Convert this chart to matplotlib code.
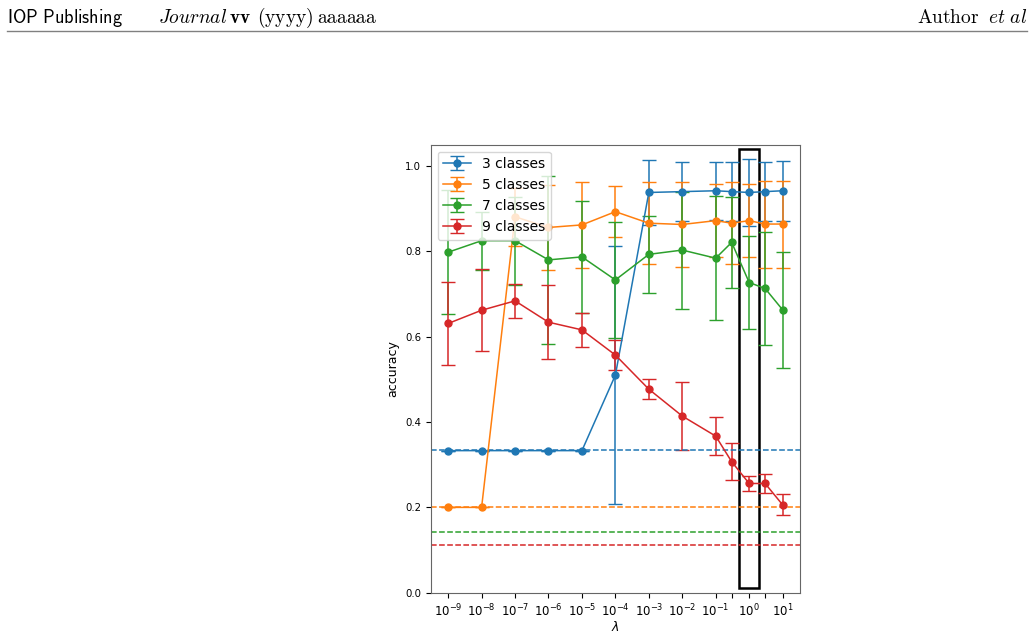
import matplotlib
matplotlib.use("Agg")
import matplotlib.pyplot as plt
from matplotlib.patches import Rectangle

# regularisation strengths
lambdas = [1e-9, 1e-8, 1e-7, 1e-6, 1e-5, 1e-4, 1e-3, 1e-2, 1e-1, 0.3, 1, 3, 10]
tick_labels = [r'$10^{-9}$', r'$10^{-8}$', r'$10^{-7}$', r'$10^{-6}$', r'$10^{-5}$',
               r'$10^{-4}$', r'$10^{-3}$', r'$10^{-2}$', r'$10^{-1}$', '',
               r'$10^{0}$', '', r'$10^{1}$']

# mean accuracy and std per number of classes
acc3 = [0.333, 0.333, 0.333, 0.333, 0.333, 0.510, 0.938, 0.940, 0.942, 0.940, 0.938, 0.940, 0.942]
err3 = [0.0, 0.0, 0.0, 0.0, 0.0, 0.303, 0.076, 0.070, 0.068, 0.070, 0.078, 0.070, 0.070]

acc5 = [0.200, 0.200, 0.881, 0.856, 0.862, 0.893, 0.866, 0.863, 0.872, 0.866, 0.872, 0.864, 0.864]
err5 = [0.0, 0.0, 0.068, 0.100, 0.100, 0.059, 0.096, 0.100, 0.085, 0.096, 0.085, 0.102, 0.102]

acc7 = [0.798, 0.825, 0.825, 0.780, 0.787, 0.733, 0.793, 0.803, 0.784, 0.821, 0.727, 0.713, 0.663]
err7 = [0.145, 0.068, 0.103, 0.196, 0.131, 0.136, 0.090, 0.137, 0.146, 0.107, 0.110, 0.133, 0.136]

acc9 = [0.631, 0.662, 0.684, 0.634, 0.616, 0.557, 0.477, 0.414, 0.367, 0.307, 0.256, 0.256, 0.206]
err9 = [0.098, 0.096, 0.040, 0.087, 0.040, 0.035, 0.024, 0.080, 0.044, 0.043, 0.017, 0.022, 0.025]

n_classes = [3, 5, 7, 9]
colors = ['#1f77b4', '#ff7f0e', '#2ca02c', '#d62728']

W, H = 1034, 634
fig = plt.figure(figsize=(W / 100, H / 100), dpi=100)

# page header (LaTeX look via the cm math fonts)
base = 1 - 22.7 / H
fig.text(7 / W, base, r'$\mathsf{IOP\ Publishing}$', fontsize=13.2,
         va='baseline', math_fontfamily='cm')
header = [
    (158, r'$\mathit{Journal}$'),
    (229, r'$\mathbf{vv}$'),
    (257, r'$\mathrm{(yyyy)}$'),
    (317, r'$\mathrm{aaaaaa}$'),
    (917, r'$\mathrm{Author}$'),
]
for px, s in header:
    fig.text(px / W, base, s, fontsize=14, va='baseline', math_fontfamily='cm')
fig.text(1027 / W, base, r'$\mathit{et\ al}$', fontsize=14, va='baseline',
         ha='right', math_fontfamily='cm')
fig.add_artist(plt.Line2D([7 / W, 1027 / W], [1 - 31 / H, 1 - 31 / H],
                          color='#808080', lw=1.0))

ax = fig.add_axes([0.4166, 0.0651, 0.3571, 0.7067])

means = [acc3, acc5, acc7, acc9]
errs = [err3, err5, err7, err9]
for n, m, e, c in zip(n_classes, means, errs, colors):
    ax.errorbar(lambdas, m, yerr=e, color=c, marker='o', markersize=5,
                capsize=5, lw=1.1, label=f'{n} classes')

for n, c in zip(n_classes, colors):
    ax.axhline(1 / n, color=c, ls='--', lw=1.1)

ax.add_patch(Rectangle((0.5, 0.01), 1.5, 1.03, fill=False, edgecolor='black', lw=1.8))

ax.set_xscale('log')
ax.set_xlim(10 ** -9.52, 10 ** 1.52)
ax.set_ylim(0, 1.05)
ax.set_xticks(lambdas)
ax.set_xticklabels(tick_labels)
ax.minorticks_off()
ax.tick_params(axis='x', labelsize=8.5)
ax.tick_params(axis='y', labelsize=7.3)
ax.set_xlabel(r'$\lambda$', fontsize=9, labelpad=1)
ax.set_ylabel('accuracy', fontsize=9)
for s in ax.spines.values():
    s.set_color('#666666')
ax.legend(loc='upper left', fontsize=10)

plt.savefig('out.png', dpi=100)
